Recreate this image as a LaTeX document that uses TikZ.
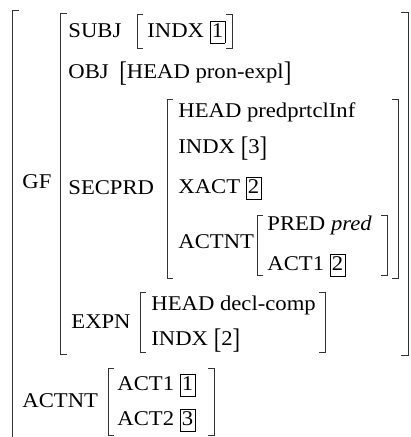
\documentclass[tikz,border=0pt]{standalone}
\usepackage{fontspec}
\usepackage{graphicx}
\setmainfont{Liberation Serif}[FakeStretch=1.08]
\newcommand{\tagbox}[1]{{\fboxsep=1.5pt\fboxrule=0.7pt\fbox{\vphantom{p}#1}}}
\newcommand{\tallbr}[1]{\raisebox{-3pt}{\scalebox{1}[1.35]{#1}}}

\begin{document}
\begin{tikzpicture}[x=1pt, y=-1pt, line width=0.8pt,
    feat/.style={anchor=base west, inner sep=0pt, font=\fontsize{21}{25}\selectfont},
    brk/.style={draw=black!80, line width=0.8pt}]
  \useasboundingbox (0,0) rectangle (411,437);
  % Outer matrix: only its left bracket shows
  \draw[brk] (19,10) -- (12,10) -- (12,440);
  \node[feat] (gf) at (22,188) {GF};
  % Value of GF
  \draw[brk] (67,13) -- (60,13) -- (60,354) -- (67,354);
  \draw[brk] (401,12) -- (408,12) -- (408,355) -- (401,355);
  \node[feat] (subj) at (68,37) {SUBJ};
  \draw[brk] (143,14) -- (137,14) -- (137,48) -- (143,48);
  \draw[brk] (226,14) -- (232,14) -- (232,48) -- (226,48);
  \node[feat] (subjindx) at (147,37) {INDX \tagbox{1}};
  \node[feat] (obj) at (68,78) {OBJ};
  \node[feat] (objval) at (119,78) {\tallbr{[}HEAD pron-expl\tallbr{]}};
  % SECPRD and its nested ACTNT
  \node[feat] (secprd) at (68,194) {SECPRD};
  \draw[brk] (173,99) -- (167,99) -- (167,278) -- (173,278);
  \draw[brk] (392,99) -- (398,99) -- (398,278) -- (392,278);
  \node[feat] (head) at (178,117) {HEAD predprtclInf};
  \node[feat] (indx) at (178,153) {INDX \tallbr{[}3\tallbr{]}};
  \node[feat] (xact) at (178,193) {XACT \tagbox{2}};
  \node[feat] (actnt) at (178,248) {ACTNT};
  \draw[brk] (263,215) -- (257,215) -- (257,275) -- (263,275);
  \draw[brk] (381,215) -- (387,215) -- (387,275) -- (381,275);
  \node[feat] (pred) at (267,230) {PRED \textit{pred}};
  \node[feat] (act) at (267,270) {ACT1 \tagbox{2}};
  % EXPN
  \node[feat] (expn) at (71,328) {EXPN};
  \draw[brk] (146,292) -- (140,292) -- (140,352) -- (146,352);
  \draw[brk] (319,292) -- (325,292) -- (325,352) -- (319,352);
  \node[feat] (expnhead) at (151,310) {HEAD decl-comp};
  \node[feat] (expnindx) at (151,345) {INDX \tallbr{[}2\tallbr{]}};
  % ACTNT of the outer matrix
  \node[feat] (actnt0) at (22,407) {ACTNT};
  \draw[brk] (114,368) -- (108,368) -- (108,435) -- (114,435);
  \draw[brk] (208,368) -- (214,368) -- (214,435) -- (208,435);
  \node[feat] (act1) at (117,390) {ACT1 \tagbox{1}};
  \node[feat] (act2) at (117,425) {ACT2 \tagbox{3}};
\end{tikzpicture}
\end{document}
